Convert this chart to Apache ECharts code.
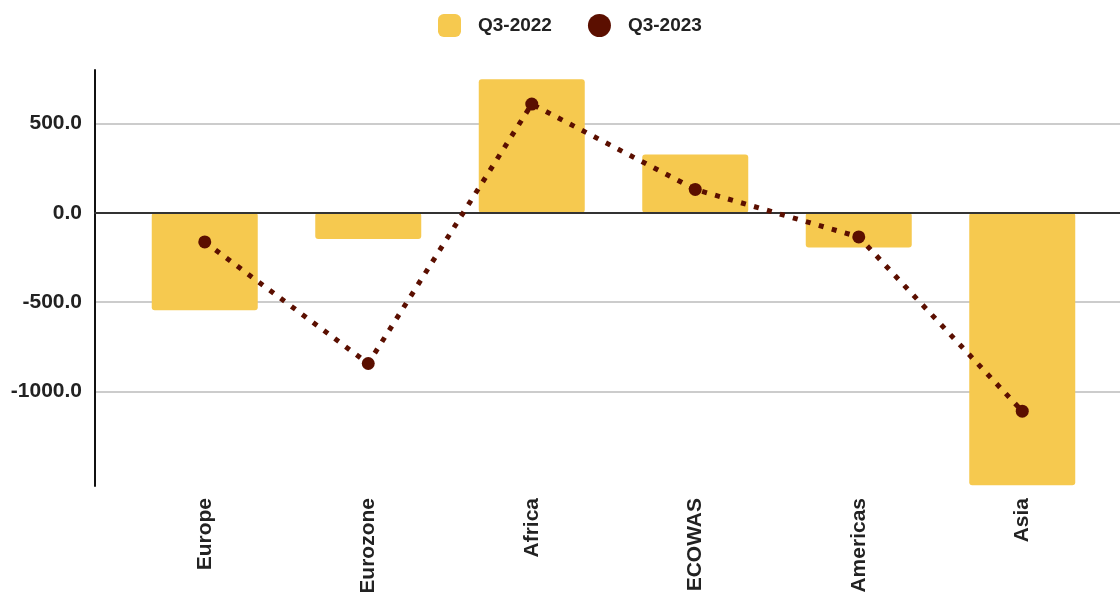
<!DOCTYPE html>
<html>
<head>
<meta charset="utf-8">
<script src="https://cdn.jsdelivr.net/npm/echarts@6/dist/echarts.min.js"></script>
<style>
  html, body { margin: 0; padding: 0; background: #ffffff; }
  #chart { width: 1120px; height: 592px; }
</style>
</head>
<body>
<div id="chart"></div>
<script>
// Regions compared across the two quarters
const regions = ['Europe', 'Eurozone', 'Africa', 'ECOWAS', 'Americas', 'Asia'];
const q3_2022 = [-545, -147, 748, 327, -194, -1526];
const q3_2023 = [-163, -844, 609, 131, -135, -1111];
// Labelled values on the vertical axis and the gridlines drawn at them
const yTickValues = [-1000, -500, 0, 500];
const gridValues = [-1000, -500, 500];
const yMin = -1530;
const yMax = 800;

const textColor = '#222222';
const fontFamily = '"Liberation Sans", Arial, sans-serif';

const chart = echarts.init(document.getElementById('chart'), null, { renderer: 'canvas' });

chart.setOption({
  animation: false,
  backgroundColor: '#ffffff',
  textStyle: { fontFamily: fontFamily },
  legend: {
    left: 433,
    top: 9,
    itemWidth: 23,
    itemHeight: 23,
    itemGap: 36,
    data: [
      { name: 'Q3-2022', icon: 'roundRect' },
      { name: 'Q3-2023', icon: 'circle' }
    ],
    textStyle: {
      color: textColor,
      fontSize: 19,
      fontWeight: 'bold',
      fontFamily: fontFamily,
      padding: [0, 0, 0, 12]
    }
  },
  grid: [
    // frame: vertical axis, gridlines and zero line across the full width
    { left: 95, right: 0, top: 70, bottom: 106, containLabel: false, outerBoundsMode: 'none' },
    // data area holding the category bands
    { left: 123, right: 16, top: 70, bottom: 106, containLabel: false, outerBoundsMode: 'none' }
  ],
  xAxis: [
    {
      gridIndex: 0,
      type: 'value',
      min: 0,
      max: 1,
      z: 3,
      axisLine: { show: true, onZero: true, lineStyle: { color: '#333333', width: 2 } },
      axisTick: { show: false },
      axisLabel: { show: false },
      splitLine: { show: false }
    },
    {
      gridIndex: 1,
      type: 'category',
      data: regions,
      position: 'bottom',
      axisLine: { show: false, onZero: false },
      axisTick: { show: false },
      axisLabel: {
        rotate: 90,
        margin: 12,
        color: textColor,
        fontSize: 21,
        fontWeight: 'bold',
        fontFamily: fontFamily
      }
    }
  ],
  yAxis: [
    {
      gridIndex: 0,
      type: 'value',
      min: yMin,
      max: yMax,
      axisLine: { show: true, lineStyle: { color: '#111111', width: 2 } },
      axisTick: { show: false, customValues: gridValues },
      splitLine: { show: true, lineStyle: { color: '#cccccc', width: 2 } },
      axisLabel: {
        customValues: yTickValues,
        margin: 13,
        color: textColor,
        fontSize: 21,
        fontWeight: 'bold',
        fontFamily: fontFamily,
        formatter: function (v) { return v.toFixed(1); }
      }
    },
    {
      gridIndex: 1,
      type: 'value',
      min: yMin,
      max: yMax,
      show: false,
      splitLine: { show: false }
    }
  ],
  series: [
    {
      name: 'Q3-2022',
      type: 'bar',
      xAxisIndex: 1,
      yAxisIndex: 1,
      data: q3_2022,
      barWidth: 106,
      z: 2,
      itemStyle: { color: '#f6c94f', borderRadius: 3 }
    },
    {
      name: 'Q3-2023',
      type: 'line',
      xAxisIndex: 1,
      yAxisIndex: 1,
      data: q3_2023,
      z: 4,
      symbol: 'circle',
      symbolSize: 13,
      itemStyle: { color: '#5b0f00' },
      lineStyle: { color: '#5b0f00', width: 5, type: [5, 8.5], cap: 'butt' }
    }
  ]
});
</script>
</body>
</html>
